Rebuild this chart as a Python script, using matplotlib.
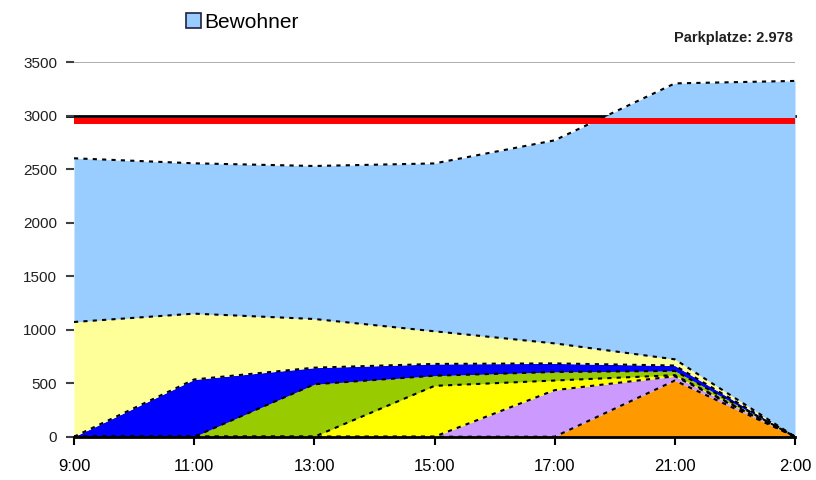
import matplotlib
matplotlib.use("Agg")
import matplotlib.pyplot as plt
import matplotlib.transforms as mtransforms
import numpy as np
from matplotlib.patches import Patch

# Time slots along the x axis
times = ["9:00", "11:00", "13:00", "15:00", "17:00", "21:00", "2:00"]

# Stacked layers, bottom to top
orange = [0, 0, 0, 0, 0, 525, 0]
purple = [0, 0, 0, 0, 435, 40, 0]
yellow = [0, 0, 0, 475, 90, 10, 0]
green = [0, 0, 490, 95, 80, 40, 0]
blue = [0, 535, 155, 110, 80, 50, 0]
pale = [1072, 615, 455, 305, 187, 58, 0]
bewohner = [1530, 1405, 1430, 1569, 1898, 2579, 3325]

capacity = 2978
upper_line = 3000

layers = [orange, purple, yellow, green, blue, pale, bewohner]
colors = ["#FF9900", "#CC99FF", "#FFFF00", "#99CC00", "#0000FF", "#FFFF99", "#99CCFF"]

plt.rcParams["font.family"] = ["Liberation Sans", "DejaVu Sans"]

fig = plt.figure(figsize=(8.16, 4.8), dpi=100)
ax = fig.add_axes([74 / 816, (480 - 436.7) / 480, (795 - 74) / 816, (436.7 - 62.2) / 480])

x = np.arange(len(times))
cum = np.zeros(len(times))
for vals, col in zip(layers, colors):
    top = cum + np.array(vals)
    ax.fill_between(x, cum, top, color=col, linewidth=0, zorder=2)
    cum = top

# dotted boundaries between layers
cum = np.zeros(len(times))
for vals in layers:
    cum = cum + np.array(vals)
    ax.plot(x, cum, color="black", linewidth=1.5, linestyle=(0, (2, 2.5)), zorder=3)

# gridline at 3500 and dark reference line at 3000
ax.axhline(3500, color="#A0A0A0", linewidth=1.2, zorder=1)
ax.plot([-0.06, 6], [upper_line, upper_line], color="black", linewidth=2, zorder=1, clip_on=False)

# capacity line: a thick band hanging just below the capacity value
band = mtransforms.offset_copy(ax.transData, fig=fig, x=0, y=-3, units="dots")
ax.plot([0, 6], [capacity, capacity], color="#FF0000", linewidth=4.3, zorder=4,
        solid_capstyle="butt", transform=band)

ax.set_xlim(0, 6)
ax.set_ylim(0, 3500)
ax.set_xticks(x)
ax.set_xticklabels(times)
ax.set_yticks(np.arange(0, 3501, 500))

for s in ["top", "right", "left"]:
    ax.spines[s].set_visible(False)
ax.spines["bottom"].set_linewidth(2)
ax.spines["bottom"].set_zorder(5)
ax.tick_params(axis="y", length=6, width=1.5, color="#404040", labelsize=11, pad=6,
               labelcolor="#202020")
ax.tick_params(axis="x", length=6, width=1.5, color="black", labelsize=12, pad=10)

fig.text(793 / 816, 1 - 38 / 480, "Parkplatze: 2.978", ha="right", va="center",
         fontsize=10.5, fontweight="bold", color="#202020")

handle = Patch(facecolor="#99CCFF", edgecolor="#202040", linewidth=1.2)
fig.legend([handle], ["Bewohner"], loc="center left", bbox_to_anchor=(186 / 816, 1 - 22 / 480),
           frameon=False, fontsize=15, handlelength=0.7, handleheight=0.7, handletextpad=0.2,
           borderaxespad=0, borderpad=0)

fig.savefig("out.png", dpi=100)
